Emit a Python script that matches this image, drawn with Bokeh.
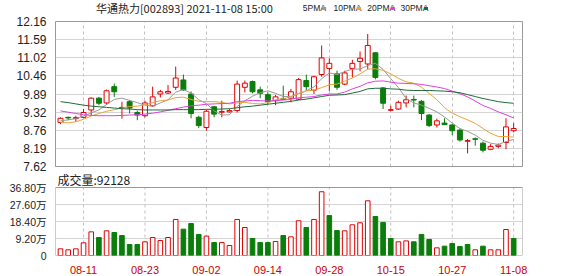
from bokeh.plotting import figure
from bokeh.models import ColumnDataSource, FixedTicker, Range1d, CustomJSTickFormatter, PrintfTickFormatter
from bokeh.core.properties import value
from bokeh.layouts import column
from bokeh.embed import file_html
from bokeh.resources import INLINE

dates = ["08-06", "08-09", "08-10", "08-11", "08-12", "08-13", "08-16", "08-17", "08-18", "08-19",
         "08-20", "08-23", "08-24", "08-25", "08-26", "08-27", "08-30", "08-31", "09-01", "09-02",
         "09-03", "09-06", "09-07", "09-08", "09-09", "09-10", "09-13", "09-14", "09-15", "09-16",
         "09-17", "09-22", "09-23", "09-24", "09-27", "09-28", "09-29", "09-30", "10-08", "10-11",
         "10-12", "10-13", "10-14", "10-15", "10-18", "10-19", "10-20", "10-21", "10-22", "10-25",
         "10-26", "10-27", "10-28", "10-29", "11-01", "11-02", "11-03", "11-04", "11-05", "11-08"]

opens = [9.00, 9.16, 9.12, 9.16, 9.39, 9.76, 9.61, 10.12, 9.46, 9.65,
         9.31, 9.21, 9.52, 9.89, 9.92, 10.10, 10.33, 9.89, 9.16, 8.84,
         9.49, 9.32, 9.33, 9.37, 10.10, 10.28, 10.02, 9.87, 9.68, 9.74,
         9.76, 9.73, 10.31, 10.01, 10.50, 10.69, 10.52, 10.20, 10.69, 10.91,
         10.83, 11.18, 10.08, 9.38, 9.42, 9.61, 9.72, 9.66, 9.23, 8.92,
         8.98, 8.92, 8.76, 8.41, 8.49, 8.35, 8.16, 8.25, 8.37, 8.74]
highs = [9.16, 9.18, 9.21, 9.42, 9.78, 9.80, 10.03, 10.22, 9.65, 9.70,
         9.37, 9.68, 10.12, 10.02, 10.17, 10.75, 10.50, 9.97, 9.21, 9.39,
         9.52, 9.68, 9.42, 10.31, 10.31, 10.31, 10.12, 9.94, 9.86, 10.15,
         10.05, 10.39, 10.50, 10.46, 11.41, 11.01, 10.62, 10.62, 10.96, 11.22,
         11.77, 11.20, 10.10, 9.52, 9.68, 9.84, 9.84, 9.70, 9.26, 9.12,
         9.13, 8.95, 8.81, 8.48, 8.53, 8.40, 8.32, 8.34, 9.13, 8.98]
lows = [8.95, 9.07, 9.02, 9.13, 9.23, 9.54, 9.55, 9.80, 9.12, 9.28,
        9.07, 9.16, 9.49, 9.78, 9.89, 10.02, 9.99, 9.13, 8.82, 8.74,
        9.16, 9.16, 9.31, 9.31, 9.94, 9.91, 9.76, 9.57, 9.54, 9.70,
        9.63, 9.70, 9.99, 9.89, 10.43, 9.98, 10.02, 10.17, 10.41, 10.60,
        10.66, 10.35, 9.42, 9.35, 9.39, 9.47, 9.47, 9.07, 8.86, 8.84,
        8.92, 8.60, 8.40, 8.03, 8.27, 8.06, 8.13, 8.19, 8.16, 8.69]
closes = [9.13, 9.14, 9.15, 9.31, 9.76, 9.60, 9.99, 9.96, 9.47, 9.45,
          9.23, 9.61, 9.80, 9.96, 9.97, 10.39, 10.02, 9.28, 8.90, 9.35,
          9.26, 9.34, 9.37, 10.20, 10.23, 9.96, 9.91, 9.65, 9.80, 9.72,
          9.96, 10.34, 10.12, 10.43, 11.02, 10.85, 10.10, 10.55, 10.85, 11.01,
          11.41, 10.41, 9.60, 9.40, 9.63, 9.71, 9.70, 9.28, 8.90, 9.05,
          8.93, 8.74, 8.45, 8.43, 8.47, 8.13, 8.25, 8.29, 8.86, 8.81]
# volume in 万 (10k shares)
volumes = [3.6, 3.07, 3.6, 6.86, 12.8, 9.74, 13.35, 12.45, 10.8, 5.95,
           5.95, 7.4, 9.74, 8.1, 9.74, 19.5, 14.25, 17.3, 11.4, 10.5,
           7.0, 7.0, 5.4, 19.5, 15.15, 9.2, 7.0, 7.0, 7.6, 10.8,
           10.1, 18.8, 15.15, 19.5, 34.5, 21.6, 13.5, 13.35, 16.6, 17.7,
           29.6, 21.1, 17.9, 9.2, 7.4, 7.9, 7.4, 11.4, 8.66, 4.15,
           5.05, 6.5, 4.87, 5.95, 3.07, 5.05, 3.07, 3.07, 14.07, 9.21]
ma5 = [9.05, 9.08, 9.12, 9.20, 9.30, 9.39, 9.56, 9.72, 9.76, 9.69,
       9.62, 9.54, 9.51, 9.61, 9.71, 9.95, 10.03, 9.92, 9.71, 9.59,
       9.36, 9.23, 9.24, 9.50, 9.68, 9.82, 9.93, 9.99, 9.91, 9.81,
       9.81, 9.89, 9.99, 10.11, 10.37, 10.55, 10.50, 10.59, 10.67, 10.67,
       10.78, 10.85, 10.66, 10.37, 10.09, 9.75, 9.61, 9.54, 9.44, 9.33,
       9.17, 8.98, 8.81, 8.72, 8.60, 8.44, 8.35, 8.31, 8.40, 8.47]
ma10 = [9.00, 8.99, 9.02, 9.10, 9.20, 9.28, 9.35, 9.40, 9.45, 9.50,
        9.51, 9.55, 9.62, 9.68, 9.70, 9.78, 9.79, 9.72, 9.66, 9.65,
        9.65, 9.63, 9.58, 9.61, 9.63, 9.59, 9.58, 9.62, 9.71, 9.74,
        9.81, 9.91, 9.99, 10.01, 10.09, 10.18, 10.20, 10.29, 10.39, 10.52,
        10.67, 10.68, 10.63, 10.52, 10.38, 10.27, 10.23, 10.10, 9.91, 9.71,
        9.46, 9.29, 9.18, 9.08, 8.97, 8.81, 8.66, 8.56, 8.56, 8.54]
ma20 = [9.36, 9.32, 9.28, 9.24, 9.22, 9.21, 9.21, 9.21, 9.22, 9.23,
        9.24, 9.26, 9.29, 9.33, 9.38, 9.43, 9.48, 9.52, 9.54, 9.57,
        9.58, 9.59, 9.60, 9.65, 9.67, 9.69, 9.68, 9.67, 9.68, 9.70,
        9.73, 9.77, 9.79, 9.81, 9.86, 9.89, 9.89, 9.95, 10.05, 10.13,
        10.24, 10.29, 10.30, 10.26, 10.23, 10.22, 10.21, 10.19, 10.15, 10.11,
        10.06, 9.98, 9.90, 9.80, 9.67, 9.53, 9.44, 9.33, 9.24, 9.14]
ma30 = [9.65, 9.62, 9.58, 9.54, 9.51, 9.49, 9.47, 9.45, 9.43, 9.42,
        9.40, 9.39, 9.39, 9.39, 9.39, 9.40, 9.40, 9.40, 9.40, 9.41,
        9.41, 9.42, 9.43, 9.46, 9.49, 9.51, 9.54, 9.57, 9.60, 9.63,
        9.66, 9.70, 9.73, 9.77, 9.81, 9.85, 9.86, 9.87, 9.92, 9.97,
        10.05, 10.07, 10.07, 10.05, 10.04, 10.01, 10.00, 10.00, 10.00, 9.99,
        9.98, 9.96, 9.93, 9.87, 9.81, 9.75, 9.70, 9.65, 9.62, 9.60]

price_ticks = [7.62, 8.19, 8.76, 9.32, 9.89, 10.46, 11.02, 11.59, 12.16]
vol_ticks = [0, 9.2, 18.4, 27.6, 36.8]
date_labels = ["08-11", "08-23", "09-02", "09-14", "09-28", "10-15", "10-27", "11-08"]
title_text = "华通热力[002893] 2021-11-08 15:00"
legend_names = ["5PMA", "10PMA", "20PMA", "30PMA"]
volume_text = "成交量:92128"

RED = "#e00000"
GREEN = "#0a7d0a"
MA_COLORS = ["#999999", "#e8a33a", "#e040e0", "#1f6b3a"]
BORDER = "#999999"
GRID = "#d4d4d4"
VGRID = "#c0c0c0"
W = 578

xs = list(range(len(dates)))
date_idx = [dates.index(d) for d in date_labels]
up = [c >= o for o, c in zip(opens, closes)]
src = ColumnDataSource(dict(
    x=xs, o=opens, h=highs, l=lows, c=closes,
    top=[max(o, c) for o, c in zip(opens, closes)],
    bot=[min(o, c) for o, c in zip(opens, closes)],
    color=[RED if u else GREEN for u in up],
    fill=["white" if u else GREEN for u in up],
))
vup = [True] + [closes[i] >= closes[i - 1] for i in range(1, len(closes))]
vsrc = ColumnDataSource(dict(
    x=xs, v=volumes,
    color=[RED if u else GREEN for u in vup],
    fill=["white" if u else GREEN for u in vup],
))

# ---- header row: title + MA legend (pixel layout coordinates) ----
hdr = figure(width=W, height=15, x_range=Range1d(0, W), y_range=Range1d(15, 0),
             output_backend="svg", toolbar_location=None, min_border=0)
hdr.xaxis.visible = False
hdr.yaxis.visible = False
hdr.xgrid.visible = False
hdr.ygrid.visible = False
hdr.outline_line_color = None
hdr.text(x=[50], y=[7.5], text=[title_text], text_font=value("Noto Sans CJK SC"),
         text_font_size="11px", text_color="#222222", text_baseline="middle",
         text_line_height=1.0)
leg_x = [306, 344, 386, 427]
leg_w = [23, 28, 28, 28]
hdr.text(x=leg_x, y=[7.5] * 4, text=legend_names, text_font=value("Liberation Sans"),
         text_font_size="8.5px", text_color="#222222", text_baseline="middle",
         text_line_height=1.0)
sw_left = [lx + w + 1 for lx, w in zip(leg_x, leg_w)]
hdr.quad(left=sw_left, right=[s + 5 for s in sw_left], top=[6.5] * 4, bottom=[9.5] * 4,
         fill_color=MA_COLORS, line_color=None)

xr = Range1d(-0.65, 60.15)

# ---- price panel ----
p = figure(width=W, height=158, x_range=xr, y_range=Range1d(price_ticks[0], price_ticks[-1]),
           output_backend="svg", toolbar_location=None,
           min_border_left=55, min_border_right=56, min_border_top=6, min_border_bottom=7)
p.xaxis.visible = False
p.yaxis.ticker = FixedTicker(ticks=price_ticks)
p.yaxis.formatter = PrintfTickFormatter(format="%.2f")
p.yaxis.axis_line_color = None
p.yaxis.major_tick_line_color = None
p.yaxis.minor_tick_line_color = None
p.yaxis.major_label_standoff = 3
p.yaxis.major_label_text_font = "Liberation Sans"
p.yaxis.major_label_text_font_size = "12px"
p.yaxis.major_label_text_line_height = 1.0
p.yaxis.major_label_text_color = "#222222"
p.ygrid.ticker = FixedTicker(ticks=price_ticks)
p.ygrid.grid_line_color = GRID
p.xgrid.ticker = FixedTicker(ticks=date_idx)
p.xgrid.grid_line_color = VGRID
p.xgrid.grid_line_dash = "3 3"
p.outline_line_color = BORDER

p.segment(x0="x", y0="l", x1="x", y1="h", color="color", line_width=1, source=src)
p.vbar(x="x", width=0.64, top="top", bottom="bot", fill_color="fill", line_color="color",
       line_width=1, source=src)
for ma, col in zip([ma5, ma10, ma20, ma30], MA_COLORS):
    p.line(xs, ma, color=col, line_width=1)

# ---- volume panel (frame extends above the box to hold the caption) ----
BOX_PX, FRAME_PX = 68, 82
vmax = vol_ticks[-1]
v = figure(width=W, height=103, x_range=xr, y_range=Range1d(0, vmax * FRAME_PX / BOX_PX),
           output_backend="svg", toolbar_location=None,
           min_border_left=55, min_border_right=56, min_border_top=0, min_border_bottom=21)
v.yaxis.ticker = FixedTicker(ticks=vol_ticks)
v.yaxis.formatter = CustomJSTickFormatter(code="return tick == 0 ? '0' : tick.toFixed(2) + '万'")
v.yaxis.axis_line_color = None
v.yaxis.major_tick_line_color = None
v.yaxis.minor_tick_line_color = None
v.yaxis.major_label_standoff = 3
v.yaxis.major_label_text_font = "Liberation Sans, Noto Sans CJK SC"
v.yaxis.major_label_text_font_size = "10.5px"
v.yaxis.major_label_text_line_height = 1.0
v.yaxis.major_label_text_color = "#222222"
v.xaxis.ticker = FixedTicker(ticks=date_idx)
v.xaxis.formatter = CustomJSTickFormatter(args=dict(labels=dates), code="return labels[tick]")
v.xaxis.axis_line_color = None
v.xaxis.major_tick_line_color = None
v.xaxis.minor_tick_line_color = None
v.xaxis.major_label_standoff = 4
v.xaxis.major_label_text_font = "Liberation Sans"
v.xaxis.major_label_text_font_size = "11px"
v.xaxis.major_label_text_color = "#cc0000"
v.ygrid.ticker = FixedTicker(ticks=vol_ticks)
v.ygrid.grid_line_color = GRID
v.xgrid.visible = False
v.outline_line_color = None

# dashed date lines and box border, bounded by the volume box
v.segment(x0=date_idx, y0=[0] * len(date_idx), x1=date_idx, y1=[vmax] * len(date_idx),
          color=VGRID, line_dash="3 3", line_width=1)
v.segment(x0=[xr.start, xr.end, xr.start, xr.start], y0=[0, 0, vmax, 0],
          x1=[xr.start, xr.end, xr.end, xr.end], y1=[vmax, vmax, vmax, 0],
          color=BORDER, line_width=1)

v.vbar(x="x", width=0.6, top="v", bottom=0, fill_color="fill", line_color="color",
       line_width=1, source=vsrc)

px_per_unit = BOX_PX / vmax
px_per_bar = 467 / (xr.end - xr.start)
v.text(x=[xr.start + 2 / px_per_bar], y=[vmax + 8.5 / px_per_unit], text=[volume_text],
       text_font=value("Noto Sans CJK SC"), text_font_size="12px",
       text_color="#222222", text_baseline="middle", text_line_height=1.0)

layout = column(hdr, p, v, spacing=0)
open("out.html", "w").write(file_html(layout, INLINE))
